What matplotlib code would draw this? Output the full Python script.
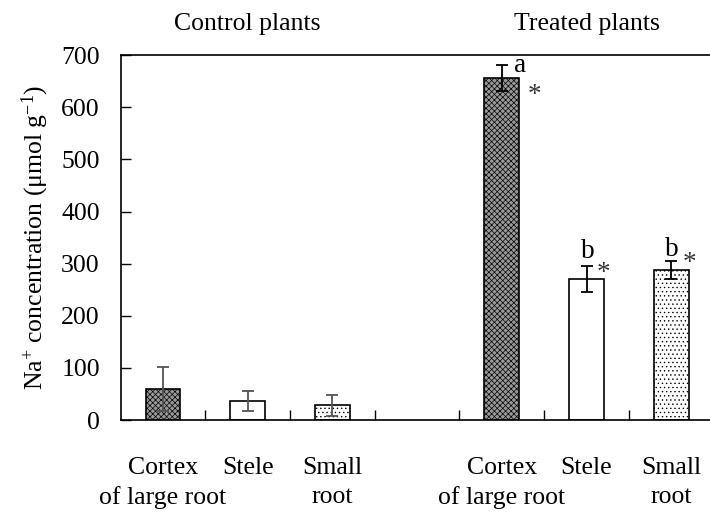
import matplotlib
matplotlib.use("Agg")
import matplotlib.pyplot as plt
import numpy as np

plt.rcParams["font.family"] = ["Liberation Serif", "DejaVu Serif"]
plt.rcParams["mathtext.fontset"] = "custom"
plt.rcParams["mathtext.rm"] = "Liberation Serif"
plt.rcParams["mathtext.it"] = "Liberation Serif:italic"
plt.rcParams["hatch.linewidth"] = 0.5

# data
groups = ["Control plants", "Treated plants"]
tissues = ["Cortex\nof large root", "Stele", "Small\nroot"]
control_vals = [60, 37, 28]
control_err = [42, 19, 20]
treated_vals = [657, 271, 288]
treated_err = [25, 25, 17]
letters = ["a", "b", "b"]

FS = 18.5

fig = plt.figure(figsize=(7.1, 5.16), dpi=100)
ax = fig.add_axes([0.170, 0.186, 0.835, 0.707])

ctrl_x = np.array([0.5, 1.5, 2.5])
trt_x = np.array([4.5, 5.5, 6.5])
w = 0.41
faces = ["#9a9a9a", "white", "white"]
hatches = ["xxxxxx", None, "...."]

# letter / asterisk offsets (x in slot units, y in data units, baseline)
letter_dx = [0.21, 0.01, 0.01]
letter_y = [668, 311, 315]
star_dx = [0.39, 0.20, 0.21]
star_y = [610, 269, 288]

for i in range(3):
    ax.bar(ctrl_x[i], control_vals[i], w, color=faces[i], hatch=hatches[i],
           edgecolor="black", linewidth=1.2, zorder=2)
    ax.errorbar(ctrl_x[i], control_vals[i], yerr=control_err[i], fmt="none",
                ecolor="#555555", elinewidth=1.3, capsize=4.3, capthick=1.3, zorder=3)
    ax.bar(trt_x[i], treated_vals[i], w, color=faces[i], hatch=hatches[i],
           edgecolor="black", linewidth=1.2, zorder=2)
    ax.errorbar(trt_x[i], treated_vals[i], yerr=treated_err[i], fmt="none",
                ecolor="black", elinewidth=1.3, capsize=4.3, capthick=1.3, zorder=3)
    ax.text(trt_x[i] + letter_dx[i], letter_y[i], letters[i], ha="center",
            va="baseline", fontsize=FS + 1)
    ax.text(trt_x[i] + star_dx[i], star_y[i], "*", ha="center",
            va="baseline", fontsize=FS + 1, color="#333333")

ax.set_xlim(0, 7)
ax.set_ylim(0, 700)
ax.set_yticks(range(0, 701, 100))
ax.tick_params(axis="y", direction="in", length=7, width=1, labelsize=FS, pad=15)
ax.set_xticks([1, 2, 3, 4, 5, 6])
ax.set_xticklabels([])
ax.tick_params(axis="x", direction="in", length=7, width=1)
for s in ax.spines.values():
    s.set_linewidth(1.2)

for xs in (ctrl_x, trt_x):
    for x, lab in zip(xs, tissues):
        ax.text(x, -70, lab, ha="center", va="top", fontsize=FS, linespacing=1.42)

ax.text(1.5, 1.055, groups[0], transform=ax.get_xaxis_transform(), ha="center",
        va="bottom", fontsize=FS)
ax.text(5.5, 1.055, groups[1], transform=ax.get_xaxis_transform(), ha="center",
        va="bottom", fontsize=FS)

ax.set_ylabel(r"Na$^{+}$ concentration (μmol g$^{\mathregular{-1}}$)", fontsize=FS)
ax.yaxis.set_label_coords(-0.118, 0.5)

fig.savefig("out.png", dpi=100)
